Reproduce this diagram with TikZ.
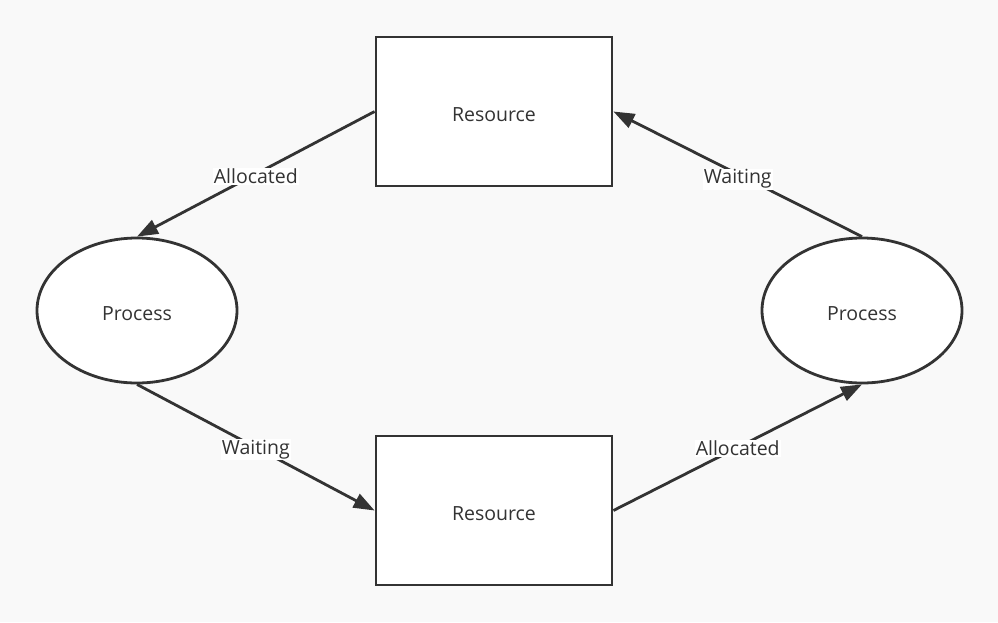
\documentclass[tikz,border=0pt]{standalone}
\usepackage{fontspec}
\setmainfont{Open Sans}
\usetikzlibrary{shapes.geometric,arrows.meta}
\definecolor{ink}{HTML}{333333}
\definecolor{bg}{HTML}{F9F9F9}
\tikzset{
  txt/.style={text=ink, font=\fontsize{19.5}{22}\selectfont},
  resbox/.style={txt, draw=ink, line width=2.8pt, fill=white, minimum width=236pt, minimum height=149pt, inner sep=0pt, text height=20pt, text depth=0pt},
  procnode/.style={txt, draw=ink, line width=2.8pt, fill=white, ellipse, minimum width=200pt, minimum height=145pt, inner sep=0pt, text height=20pt, text depth=0pt},
  conn/.style={draw=ink, line width=2.8pt, -{Triangle[length=21pt,width=15pt]}},
  lbl/.style={txt, fill=white, inner sep=1pt, yshift=-2pt}
}
\begin{document}
\begin{tikzpicture}[x=1pt,y=-1pt]
\useasboundingbox[fill=bg] (0,0) rectangle (998,622);
\node[resbox] (r1) at (494,111.5) {Resource};
\node[resbox] (r2) at (494,510.5) {Resource};
\node[procnode] (p1) at (137,310.5) {Process};
\node[procnode] (p2) at (862,310.5) {Process};
\draw[conn] (r1.west) -- node[lbl] {Allocated} (p1.north);
\draw[conn] (p1.south) -- node[lbl] {Waiting} (r2.west);
\draw[conn] (r2.east) -- node[lbl, yshift=1pt] {Allocated} (p2.south);
\draw[conn] (p2.north) -- node[lbl, yshift=-3pt] {Waiting} (r1.east);
\end{tikzpicture}
\end{document}
